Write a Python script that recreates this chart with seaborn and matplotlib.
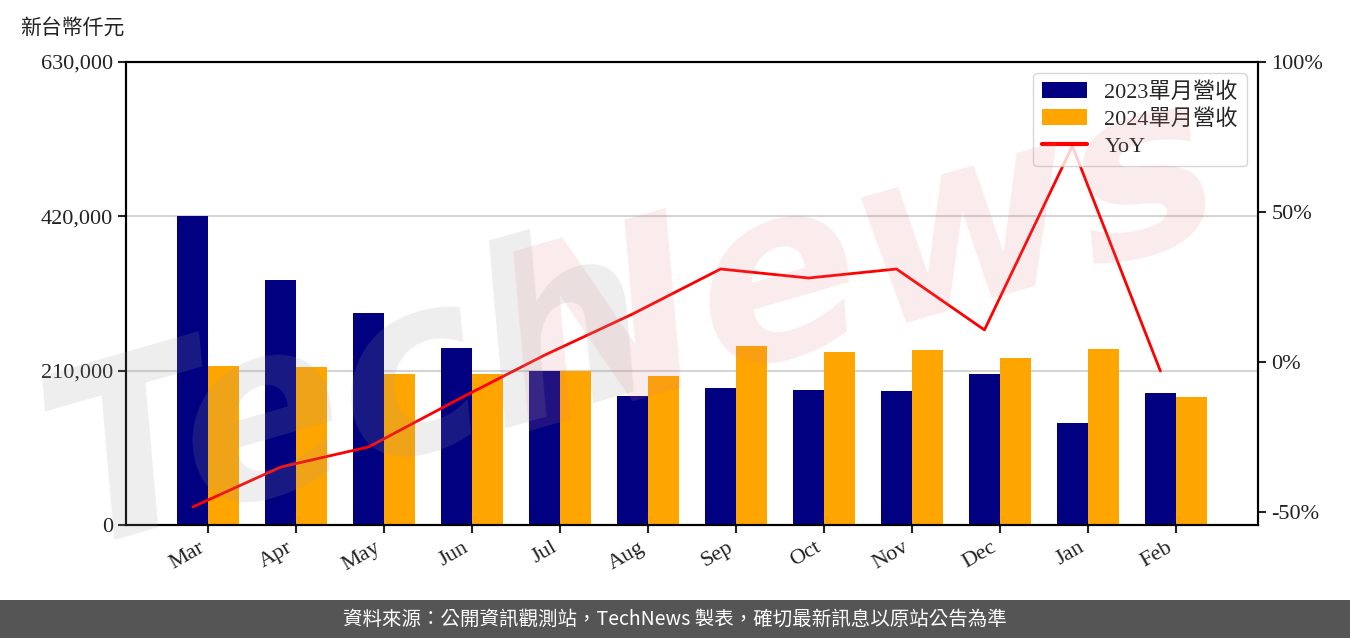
import numpy as np
import pandas as pd
import matplotlib
matplotlib.use("Agg")
import matplotlib.pyplot as plt
import seaborn as sns
from matplotlib.patches import Rectangle
from matplotlib.ticker import FuncFormatter

# --- data ---
months = ["Mar", "Apr", "May", "Jun", "Jul", "Aug", "Sep", "Oct", "Nov", "Dec", "Jan", "Feb"]
rev_2023 = [420500, 333400, 288500, 240800, 209600, 175500, 186400, 183700, 182300, 205500, 138800, 179600]
rev_2024 = [216400, 215000, 205500, 205500, 209600, 202700, 243600, 235400, 238100, 227200, 239500, 174200]
yoy = [-48.3, -35.0, -28.3, -12.7, 2.3, 16.0, 31.0, 28.0, 31.0, 10.7, 72.0, -3.0]

label_23 = "2023單月營收"
label_24 = "2024單月營收"
label_yoy = "YoY"

sns.set_theme(style="ticks")
plt.rcParams["font.family"] = ["Liberation Serif", "Noto Sans CJK TC", "DejaVu Sans"]
plt.rcParams["axes.unicode_minus"] = False

df = pd.DataFrame({
    "month": months * 2,
    "value": rev_2023 + rev_2024,
    "series": [label_23] * len(months) + [label_24] * len(months),
})

fig = plt.figure(figsize=(13.5, 6.38), dpi=100)
ax = fig.add_axes([126 / 1350, 1 - 525 / 638, (1258 - 126) / 1350, (525 - 62) / 638])

sns.barplot(data=df, x="month", y="value", hue="series", order=months,
            palette={label_23: "#000080", label_24: "#FFA500"},
            width=0.7, saturation=1, linewidth=0, ax=ax, errorbar=None)
bar_handles, bar_labels = ax.get_legend_handles_labels()
if ax.get_legend() is not None:
    ax.get_legend().remove()

ax.set_ylim(0, 630000)
ax.set_yticks([0, 210000, 420000, 630000])
ax.yaxis.set_major_formatter(FuncFormatter(lambda v, p: f"{int(v):,}"))
ax.set_xlabel("")
ax.set_ylabel("")
ax.grid(axis="y", color="#d4d4d4", lw=1.5)
ax.grid(axis="x", visible=False)
ax.set_axisbelow(True)

ax2 = ax.twinx()
pos = np.arange(len(months)) - 0.175
sns.lineplot(x=pos, y=yoy, ax=ax2, color="red", lw=2, label=label_yoy)
line_handles, line_labels = ax2.get_legend_handles_labels()
if ax2.get_legend() is not None:
    ax2.get_legend().remove()
ax2.set_ylim(-54.33, 100)
ax2.set_yticks([-50, 0, 50, 100])
ax2.yaxis.set_major_formatter(FuncFormatter(lambda v, p: f"{int(v)}%"))
ax2.grid(False)

ax.set_xlim(-0.935, 11.935)

for a in (ax, ax2):
    for s in a.spines.values():
        s.set_visible(True)
        s.set_color("black")
        s.set_linewidth(1.5)
    a.tick_params(axis="both", labelsize=16, length=6, width=1.5, colors="#222222")

ax.set_xticks(range(len(months)))
ax.set_xticklabels(months, rotation=30, ha="right")

leg = ax2.legend(bar_handles + line_handles, bar_labels + line_labels,
                 loc="upper right", fontsize=16, frameon=True, labelspacing=0.3)
leg.get_frame().set_edgecolor("#cccccc")
for h in leg.legend_handles:
    if hasattr(h, "set_linewidth") and not isinstance(h, Rectangle):
        h.set_linewidth(3)

fig.text(20 / 1350, 1 - 28 / 638, "新台幣仟元", fontsize=15, ha="left", va="center",
         family=["Noto Sans CJK TC"], color="#222222")

# watermark
fig.text(350 / 1350, 1 - 400 / 638, "Tech", fontsize=175, rotation=16, ha="center", va="center",
         color="#999999", alpha=0.17, style="italic", weight="bold", family=["DejaVu Sans"], zorder=10)
fig.text(860 / 1350, 1 - 265 / 638, "News", fontsize=175, rotation=16, ha="center", va="center",
         color="#e08080", alpha=0.15, style="italic", weight="bold", family=["DejaVu Sans"], zorder=10)

# footer band
fig.add_artist(Rectangle((0, 0), 1, 38 / 638, transform=fig.transFigure,
                         facecolor="#555555", edgecolor="none", zorder=0))
fig.text(0.5, 19 / 638, "資料來源：公開資訊觀測站，TechNews 製表，確切最新訊息以原站公告為準",
         color="white", fontsize=14, ha="center", va="center",
         family=["Noto Sans CJK TC", "DejaVu Sans"])

fig.savefig("out.png", dpi=100)
